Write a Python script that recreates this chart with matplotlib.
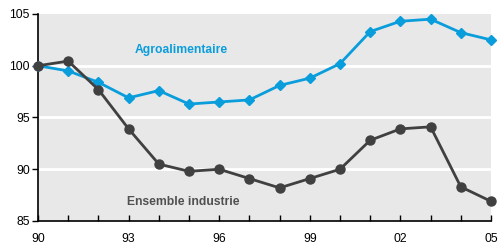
import matplotlib
matplotlib.use("Agg")
import matplotlib.pyplot as plt

years = list(range(1990, 2006))
agro = [100, 99.5, 98.4, 96.9, 97.6, 96.3, 96.5, 96.7, 98.1, 98.8, 100.2, 103.3, 104.3, 104.5, 103.2, 102.5]
industrie = [100, 100.45, 97.7, 93.9, 90.5, 89.8, 90.0, 89.1, 88.2, 89.1, 90.0, 92.8, 93.9, 94.1, 88.3, 86.9]
xtick_years = [1990, 1993, 1996, 1999, 2002, 2005]
xtick_labels = ["90", "93", "96", "99", "02", "05"]
yticks = [85, 90, 95, 100, 105]

plt.rcParams['font.family'] = ['Liberation Sans', 'DejaVu Sans']

fig = plt.figure(figsize=(5.02, 2.46), dpi=100)
ax = fig.add_axes([38/502, 25/246, (491-38)/502, (221-14)/246])
ax.set_facecolor('#e8e8e8')

blue = '#0a9ddc'
dark = '#404040'

for y in [90, 95, 100]:
    ax.axhline(y, color='white', lw=2.0, zorder=1)

ax.plot(years, agro, color=blue, lw=2.0, marker='D', ms=5, zorder=3)
ax.plot(years, industrie, color=dark, lw=2.0, marker='o', ms=6.5, zorder=3)

ax.text(1994.75, 101.55, "Agroalimentaire", color=blue, fontsize=8.7, fontweight='bold', ha='center', va='center')
ax.text(1994.82, 86.8, "Ensemble industrie", color='#505050', fontsize=8.7, fontweight='bold', ha='center', va='center')

ax.set_xlim(1990, 2005)
ax.set_ylim(85, 105)
ax.set_xticks(years, minor=False)
ax.set_xticklabels([xtick_labels[xtick_years.index(y)] if y in xtick_years else "" for y in years])
ax.set_yticks(yticks)
ax.set_yticklabels([str(v) for v in yticks])

for s in ['top', 'right']:
    ax.spines[s].set_visible(False)
for s in ['left', 'bottom']:
    ax.spines[s].set_color('black')
    ax.spines[s].set_linewidth(1.2)

ax.tick_params(axis='x', direction='in', length=4, width=1, labelsize=8.7, pad=9)
ax.tick_params(axis='y', direction='out', length=4, width=1, labelsize=8.7, pad=2)

for l in ax.lines:
    l.set_clip_on(False)

fig.savefig("out.png", dpi=100)
